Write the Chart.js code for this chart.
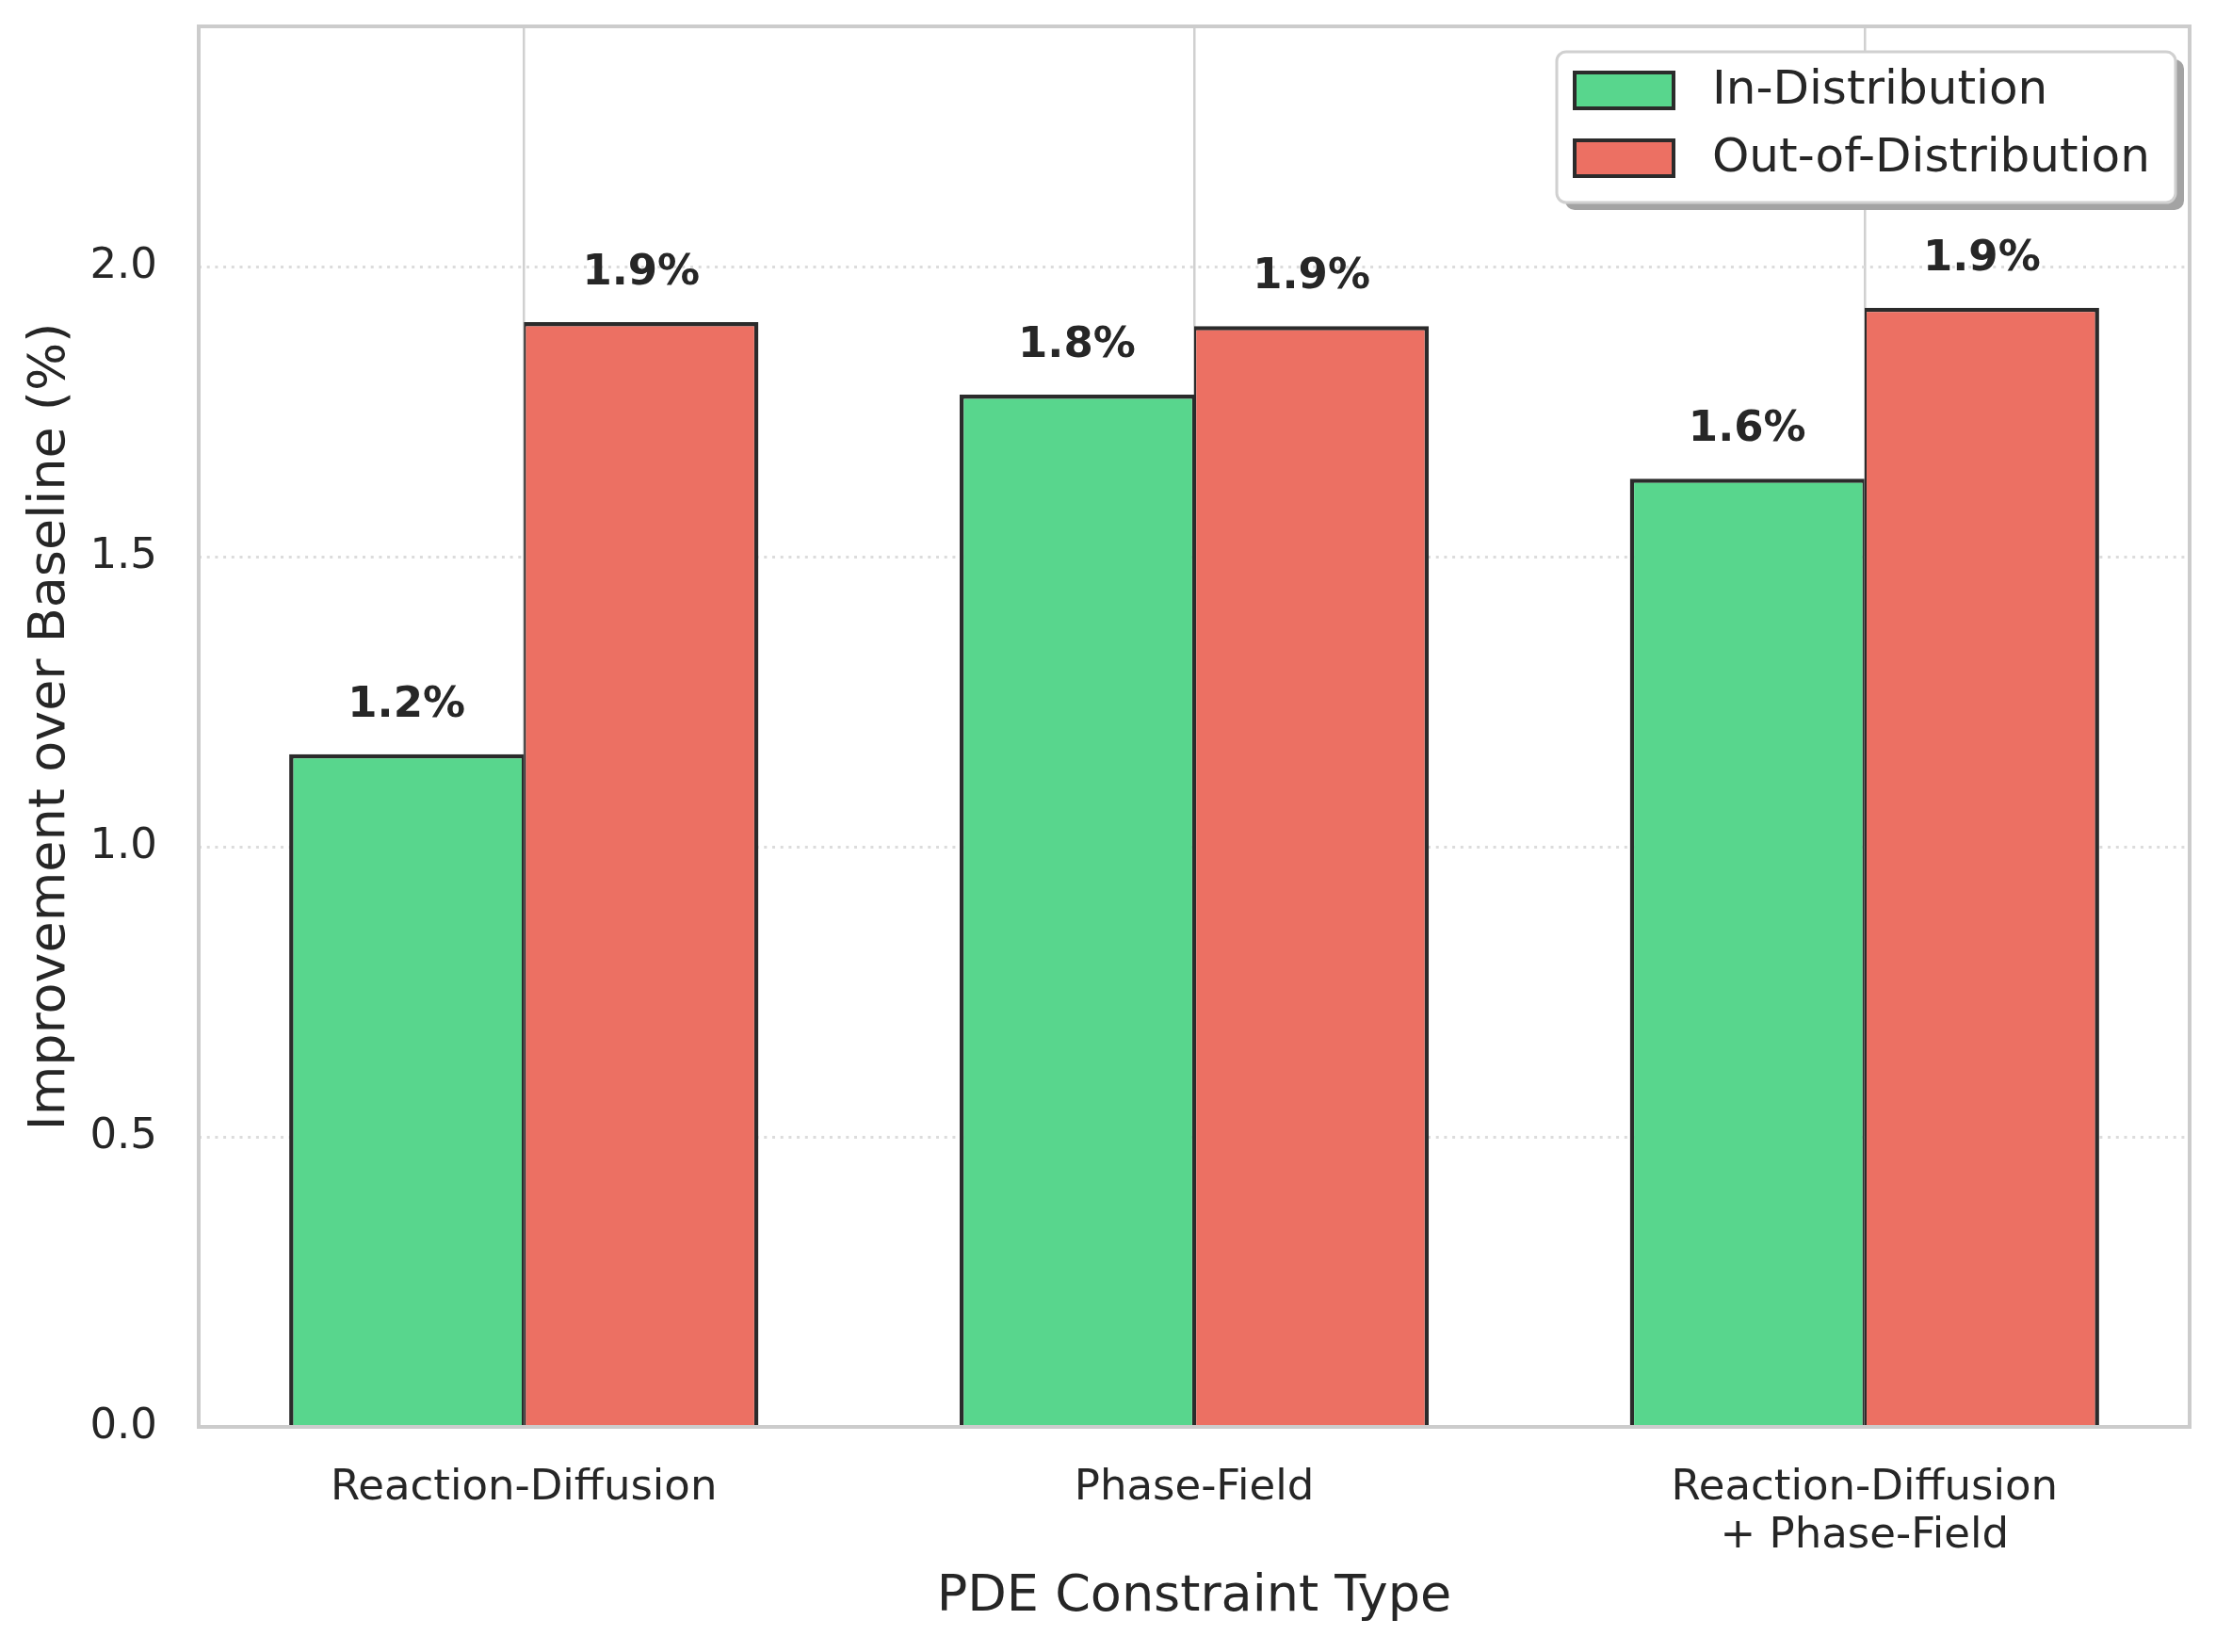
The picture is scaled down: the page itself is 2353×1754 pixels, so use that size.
<!DOCTYPE html>
<html>
<head>
<meta charset="utf-8">
<script src="https://cdn.jsdelivr.net/npm/chart.js@4.4.1/dist/chart.umd.min.js"></script>
<style>
  html, body { margin: 0; padding: 0; background: #fff; }
  #wrap { width: 2353px; height: 1754px; }
</style>
</head>
<body>
<div id="wrap"><canvas id="chart" width="2353" height="1754"></canvas></div>
<script>
const categories = ['Reaction-Diffusion', 'Phase-Field', ['Reaction-Diffusion', '+ Phase-Field']];
const seriesNames = ['In-Distribution', 'Out-of-Distribution'];
const inDist = [1.16, 1.78, 1.635];
const outDist = [1.905, 1.898, 1.93];

const FONT = '"DejaVu Sans", "Liberation Sans", sans-serif';
const TEXT = '#262626';
const EDGE = '#2b2b2b';
const GREEN = '#58D68D';
const RED = '#EC7063';

// matplotlib-like frame, value labels and legend box with shadow
const extras = {
    id: 'extras',
    afterDatasetsDraw(chart) {
        const ctx = chart.ctx;
        const a = chart.chartArea;
        ctx.save();
        ctx.strokeStyle = '#cccccc';
        ctx.lineWidth = 4;
        ctx.strokeRect(a.left, a.top, a.right - a.left, a.bottom - a.top);

        ctx.font = 'bold 45px ' + FONT;
        ctx.fillStyle = TEXT;
        ctx.textAlign = 'center';
        ctx.textBaseline = 'alphabetic';
        chart.data.datasets.forEach((ds, di) => {
            chart.getDatasetMeta(di).data.forEach((bar, i) => {
                ctx.fillText(ds.data[i].y.toFixed(1) + '%', bar.x, bar.y - 40);
            });
        });
        ctx.restore();
    },
    afterDraw(chart) {
        const ctx = chart.ctx;
        const a = chart.chartArea;
        const w = 657, h = 160;
        const x = a.right - 15 - w, y = a.top + 27;
        ctx.save();
        ctx.fillStyle = '#a3a3a3';
        ctx.beginPath();
        ctx.roundRect(x + 9, y + 8, w, h, 10);
        ctx.fill();
        ctx.fillStyle = '#ffffff';
        ctx.strokeStyle = '#d0d0d0';
        ctx.lineWidth = 3;
        ctx.beginPath();
        ctx.roundRect(x, y, w, h, 10);
        ctx.fill();
        ctx.stroke();

        ctx.font = '50px ' + FONT;
        ctx.textAlign = 'left';
        ctx.textBaseline = 'middle';
        chart.data.datasets.forEach((ds, di) => {
            const py = y + 22 + di * 72;
            ctx.fillStyle = ds.backgroundColor;
            ctx.fillRect(x + 19, py, 105, 38);
            ctx.strokeStyle = EDGE;
            ctx.lineWidth = 4;
            ctx.strokeRect(x + 19, py, 105, 38);
            ctx.fillStyle = TEXT;
            ctx.fillText(ds.label, x + 165, py + 20);
        });
        ctx.restore();
    }
};

new Chart(document.getElementById('chart'), {
    type: 'bar',
    data: {
        datasets: [
            {
                label: seriesNames[0],
                data: inDist.map((v, i) => ({ x: i, y: v })),
                backgroundColor: GREEN,
                borderColor: EDGE,
                borderWidth: { top: 4.5, left: 4.5, right: 2.25, bottom: 0 },
                borderSkipped: 'start'
            },
            {
                label: seriesNames[1],
                data: outDist.map((v, i) => ({ x: i, y: v })),
                backgroundColor: RED,
                borderColor: EDGE,
                borderWidth: { top: 4.5, left: 2.25, right: 4.5, bottom: 0 },
                borderSkipped: 'start'
            }
        ]
    },
    options: {
        responsive: false,
        animation: false,
        devicePixelRatio: 1,
        categoryPercentage: 0.7,
        barPercentage: 1.0,
        layout: { padding: { top: 28, right: 28, left: 0, bottom: 0 } },
        plugins: {
            legend: { display: false },
            tooltip: { enabled: false }
        },
        scales: {
            x: {
                type: 'linear',
                min: -0.485,
                max: 2.485,
                offset: false,
                afterFit: s => { s.height = 239; },
                grid: { color: '#d0d0d0', lineWidth: 2.5, drawTicks: true, tickLength: 39, tickWidth: 0, offset: false },
                border: { display: false },
                ticks: {
                    stepSize: 1,
                    includeBounds: false,
                    padding: 0,
                    color: TEXT,
                    font: { family: FONT, size: 45, lineHeight: 1.15 },
                    callback: v => categories[v]
                },
                title: {
                    display: true,
                    text: 'PDE Constraint Type',
                    color: TEXT,
                    font: { family: FONT, size: 54 },
                    padding: { top: 0, bottom: 26 }
                }
            },
            y: {
                min: 0,
                max: 2.415,
                afterFit: s => { s.width = 211; },
                grid: { color: '#dcdcdc', lineWidth: 3, drawTicks: true, tickLength: 44, tickWidth: 0 },
                border: { display: false, dash: [3, 5.7] },
                ticks: {
                    stepSize: 0.5,
                    includeBounds: false,
                    padding: 0,
                    color: TEXT,
                    font: { family: FONT, size: 45 },
                    callback: v => v.toFixed(1)
                },
                title: {
                    display: true,
                    text: 'Improvement over Baseline (%)',
                    color: TEXT,
                    font: { family: FONT, size: 54 },
                    padding: { top: 22, bottom: 0 }
                }
            }
        }
    },
    plugins: [extras]
});
</script>
</body>
</html>
